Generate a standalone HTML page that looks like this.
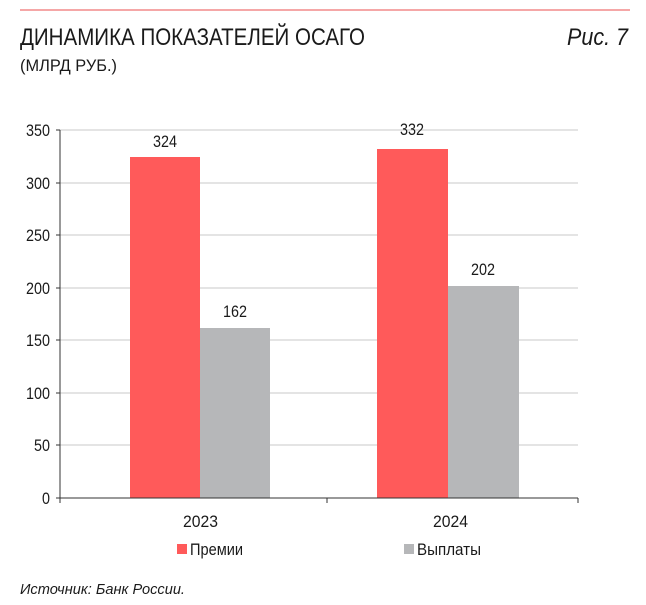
<!DOCTYPE html>
<html><head><meta charset="utf-8"><style>
body{margin:0;background:#fff;width:646px;height:600px;overflow:hidden;font-family:"Liberation Sans",sans-serif;color:#1a1a1a}
</style></head><body>
<svg width="646" height="600" xmlns="http://www.w3.org/2000/svg" font-family="Liberation Sans, sans-serif">
<line x1="20" y1="10" x2="630" y2="10" stroke="#f28a8a" stroke-width="1.5"/>
<text x="20" y="45" font-size="24" fill="#1a1a1a" textLength="345" lengthAdjust="spacingAndGlyphs">ДИНАМИКА ПОКАЗАТЕЛЕЙ ОСАГО</text>
<text x="20" y="71" font-size="17" fill="#1a1a1a" textLength="97" lengthAdjust="spacingAndGlyphs">(МЛРД РУБ.)</text>
<text x="567" y="45" font-size="24" font-style="italic" fill="#1a1a1a" textLength="61" lengthAdjust="spacingAndGlyphs">Рис. 7</text>
<g stroke="#c8c8c8" stroke-width="1">
<line x1="60" y1="130" x2="578" y2="130"/><line x1="60" y1="183" x2="578" y2="183"/>
<line x1="60" y1="235" x2="578" y2="235"/><line x1="60" y1="288" x2="578" y2="288"/>
<line x1="60" y1="340" x2="578" y2="340"/><line x1="60" y1="393" x2="578" y2="393"/>
<line x1="60" y1="445" x2="578" y2="445"/>
</g>
<rect x="130" y="157" width="70" height="341" fill="#ff5a5a"/>
<rect x="200" y="328" width="70" height="170" fill="#b6b7b9"/>
<rect x="377" y="149" width="71" height="349" fill="#ff5a5a"/>
<rect x="448" y="286" width="71" height="212" fill="#b6b7b9"/>
<g stroke="#333" stroke-width="1">
<line x1="60" y1="130" x2="60" y2="498"/><line x1="60" y1="498" x2="578" y2="498"/>
<line x1="56" y1="130" x2="60" y2="130"/><line x1="56" y1="183" x2="60" y2="183"/><line x1="56" y1="235" x2="60" y2="235"/><line x1="56" y1="288" x2="60" y2="288"/><line x1="56" y1="340" x2="60" y2="340"/><line x1="56" y1="393" x2="60" y2="393"/><line x1="56" y1="445" x2="60" y2="445"/><line x1="56" y1="498" x2="60" y2="498"/>
<line x1="60" y1="498" x2="60" y2="503"/><line x1="327" y1="498" x2="327" y2="503"/><line x1="578" y1="498" x2="578" y2="503"/>
</g>
<g font-size="17" fill="#1a1a1a">
<text x="26" y="136" textLength="24" lengthAdjust="spacingAndGlyphs">350</text>
<text x="26" y="189" textLength="24" lengthAdjust="spacingAndGlyphs">300</text>
<text x="26" y="241" textLength="24" lengthAdjust="spacingAndGlyphs">250</text>
<text x="26" y="294" textLength="24" lengthAdjust="spacingAndGlyphs">200</text>
<text x="26" y="346" textLength="24" lengthAdjust="spacingAndGlyphs">150</text>
<text x="26" y="399" textLength="24" lengthAdjust="spacingAndGlyphs">100</text>
<text x="34" y="451" textLength="16" lengthAdjust="spacingAndGlyphs">50</text>
<text x="42" y="504" textLength="8" lengthAdjust="spacingAndGlyphs">0</text>
<text x="153" y="147" textLength="24" lengthAdjust="spacingAndGlyphs">324</text>
<text x="223" y="317" textLength="24" lengthAdjust="spacingAndGlyphs">162</text>
<text x="400" y="135" textLength="24" lengthAdjust="spacingAndGlyphs">332</text>
<text x="471" y="275" textLength="24" lengthAdjust="spacingAndGlyphs">202</text>
<text x="183" y="527" textLength="35" lengthAdjust="spacingAndGlyphs">2023</text>
<text x="433" y="527" textLength="35" lengthAdjust="spacingAndGlyphs">2024</text>
</g>
<rect x="177" y="544" width="10" height="10" fill="#ff5a5a"/>
<text x="190" y="555" font-size="17" fill="#1a1a1a" textLength="53" lengthAdjust="spacingAndGlyphs">Премии</text>
<rect x="404" y="544" width="10" height="10" fill="#b6b7b9"/>
<text x="417" y="555" font-size="17" fill="#1a1a1a" textLength="64" lengthAdjust="spacingAndGlyphs">Выплаты</text>
<text x="20" y="594" font-size="15" font-style="italic" fill="#1a1a1a" textLength="165" lengthAdjust="spacingAndGlyphs">Источник: Банк России.</text>
</svg>
</body></html>
